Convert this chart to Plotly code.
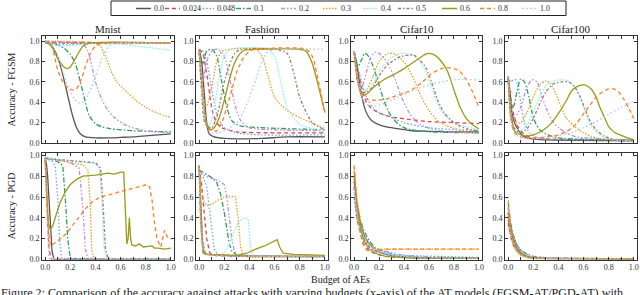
import plotly.graph_objects as go

# ---------------- data ----------------
BUDGETS = ["0.0", "0.024", "0.048", "0.1", "0.2", "0.3", "0.4", "0.5", "0.6", "0.8", "1.0"]
DATASETS = ["Mnist", "Fashion", "Cifar10", "Cifar100"]
ROW_TITLES = ["Accuracy - FGSM", "Accuracy - PGD"]
X_TICKS = [0.0, 0.1, 0.2, 0.3, 0.4, 0.5, 0.6, 0.7, 0.8, 0.9, 1.0]
Y_TICKS = [0.0, 0.2, 0.4, 0.6, 0.8, 1.0]

MNIST_FGSM = {
    "0.0": ([0, .04, .07, .1, .13, .16, .19, .22, .25, .28, .32, .4, .5, .6, .7, .8, .9, 1.0],
            [1.0, .97, .92, .84, .72, .57, .41, .26, .15, .09, .06, .05, .05, .055, .06, .07, .08, .09]),
    "0.024": ([0, .5, 1.0], [.99, .985, .985]),
    "0.048": ([0, .1, .2, .3, 1.0], [.99, .97, .965, .975, .98]),
    "0.1": ([0, .05, .1, .15, .2, .24, .28, .31, .35, .4, .45, .52, .7, 1.0],
            [1.0, .98, .96, .93, .87, .78, .6, .45, .27, .19, .16, .14, .12, .11]),
    "0.2": ([0, .2, .3, .34, .37, .4, .45, .5, .55, .65, .8, 1.0],
            [1.0, .98, .97, .9, .76, .6, .43, .32, .25, .17, .12, .1]),
    "0.3": ([0, .4, .44, .48, .52, .57, .65, .72, .8, .9, 1.0],
            [1.0, .98, .95, .85, .72, .6, .5, .42, .35, .29, .25]),
    "0.4": ([0, .15, .3, .6, .8, 1.0], [.98, .95, .97, .97, .94, .91]),
    "0.5": ([0, 1.0], [.98, .98]),
    "0.6": ([0, .05, .1, .15, .175, .2, .25, .3, .35, 1.0],
            [1.0, .95, .83, .745, .73, .745, .85, .95, .98, .98]),
    "0.8": ([0, .05, .1, .15, .2, .24, .28, .32, .36, .4, .45, 1.0],
            [1.0, .95, .72, .58, .53, .52, .6, .75, .88, .95, .98, .98]),
    "1.0": ([0, .05, .1, .15, .2, .25, .28, .32, .37, .42, .47, .52, .57, 1.0],
            [1.0, .97, .85, .66, .5, .41, .39, .42, .55, .72, .88, .96, .98, .98]),
}

FASHION_FGSM = {
    "0.0": ([0, .02, .04, .06, .08, .12, .2, .3, .5, .7, 1.0],
            [.92, .8, .5, .2, .09, .06, .045, .04, .045, .06, .06]),
    "0.024": ([0, .03, .05, .07, .09, .11, .14, .18, .3, .6, 1.0],
              [.92, .88, .75, .6, .42, .29, .2, .15, .11, .1, .1]),
    "0.048": ([0, .03, .06, .09, .12, .15, .2, .3, .5, 1.0],
              [.92, .9, .8, .6, .4, .25, .15, .1, .08, .08]),
    "0.1": ([0, .03, .06, .1, .14, .18, .22, .26, .32, .5, 1.0],
            [.9, .78, .9, .92, .85, .6, .35, .22, .17, .15, .13]),
    "0.2": ([0, .03, .06, .1, .15, .2, .24, .28, .33, .4, .6, 1.0],
            [.9, .6, .8, .9, .92, .85, .65, .4, .22, .15, .13, .12]),
    "0.3": ([0, .02, .04, .06, .1, .14, .18, .25, .45, .5, .55, .6, .7, .8, 1.0],
            [.9, .6, .4, .36, .55, .8, .9, .92, .92, .85, .65, .45, .32, .25, .14]),
    "0.4": ([0, .02, .05, .08, .12, .16, .2, .25, .55, .6, .65, .7, .8, .9, 1.0],
            [.9, .5, .2, .17, .35, .65, .85, .92, .92, .85, .6, .35, .18, .14, .12]),
    "0.5": ([0, .02, .05, .1, .15, .2, .3, .6, .7, .75, .8, .9, 1.0],
            [.9, .5, .18, .15, .3, .6, .9, .92, .88, .7, .45, .2, .13]),
    "0.6": ([0, .03, .06, .09, .12, .16, .2, .24, .28, .32, .36, .45, .8, .85, .9, .95, 1.0],
            [.9, .5, .17, .13, .15, .25, .42, .62, .78, .87, .91, .92, .92, .9, .78, .55, .3]),
    "0.8": ([0, .03, .06, .1, .14, .18, .22, .26, .3, .35, .4, .45, .85, .9, .95, 1.0],
            [.9, .5, .2, .12, .12, .2, .35, .52, .7, .83, .9, .92, .92, .85, .6, .3]),
    "1.0": ([0, .03, .06, .1, .15, .2, .3, .35, .4, .45, .5, .55, .6, 1.0],
            [.9, .5, .15, .1, .1, .12, .2, .3, .45, .62, .8, .9, .92, .92]),
}

CIFAR10_FGSM = {
    "0.0": ([0, .02, .04, .06, .085, .11, .14, .18, .25, .35, .46, .6, .8, 1.0],
            [.9, .78, .62, .47, .34, .27, .22, .19, .16, .14, .12, .115, .11, .11]),
    "0.024": ([0, .03, .06, .09, .13, .19, .25, .33, .45, .6, .8, 1.0],
              [.9, .72, .55, .42, .35, .3, .27, .25, .23, .21, .2, .19]),
    "0.048": ([0, .03, .06, .1, .15, .2, .3, .4, .6, 1.0],
              [.9, .75, .6, .45, .35, .3, .25, .2, .15, .12]),
    "0.1": ([0, .03, .06, .085, .11, .15, .19, .23, .27, .31, .35, .4, .46, .6, 1.0],
            [.9, .75, .82, .88, .86, .76, .61, .45, .32, .24, .19, .15, .13, .11, .1]),
    "0.2": ([0, .03, .06, .1, .13, .165, .2, .27, .33, .38, .44, .49, .55, .62, .75, 1.0],
            [.9, .6, .55, .7, .83, .89, .88, .78, .62, .45, .3, .22, .17, .14, .11, .1]),
    "0.3": ([0, .03, .06, .1, .15, .2, .27, .33, .41, .48, .54, .6, .67, .74, .81, .9, 1.0],
            [.9, .6, .5, .52, .65, .8, .88, .87, .78, .62, .45, .32, .22, .17, .14, .11, .1]),
    "0.4": ([0, .03, .06, .1, .15, .2, .28, .38, .48, .57, .62, .67, .72, .78, .84, .9, 1.0],
            [.9, .6, .52, .52, .58, .7, .82, .88, .86, .71, .55, .38, .28, .22, .18, .16, .13]),
    "0.5": ([0, .03, .06, .1, .15, .2, .28, .38, .48, .57, .62, .67, .72, .78, .84, .9, 1.0],
            [.9, .6, .5, .5, .55, .66, .78, .85, .86, .75, .6, .42, .3, .22, .17, .14, .12]),
    "0.6": ([0, .03, .06, .1, .15, .19, .25, .33, .4, .46, .52, .57, .6, .65, .7, .75, .8, .85, .9, .95, 1.0],
            [.9, .6, .47, .48, .54, .58, .63, .68, .73, .78, .83, .87, .88, .86, .8, .7, .52, .35, .24, .18, .14]),
    "0.8": ([0, .03, .06, .1, .15, .19, .25, .33, .4, .46, .55, .62, .7, .75, .8, .85, .9, .95, 1.0],
            [.9, .6, .48, .43, .42, .42, .43, .46, .49, .52, .6, .68, .73, .74, .73, .7, .62, .5, .35]),
    "1.0": ([0, .03, .06, .1, .15, .2, .3, .4, .5, .6, .7, .8, 1.0],
            [.9, .6, .45, .38, .36, .37, .42, .48, .53, .57, .6, .62, .62]),
}

CIFAR100_FGSM = {
    "0.0": ([0, .015, .03, .05, .085, .12, .19, .3, .5, 1.0],
            [.65, .5, .3, .2, .12, .07, .04, .03, .025, .02]),
    "0.024": ([0, .02, .04, .07, .1, .15, .2, .3, 1.0],
              [.65, .45, .3, .18, .12, .07, .05, .04, .03]),
    "0.048": ([0, .02, .04, .06, .08, .1, .13, .17, .22, .3, 1.0],
              [.65, .6, .62, .62, .55, .4, .2, .1, .06, .04, .03]),
    "0.1": ([0, .02, .04, .07, .1, .13, .165, .19, .22, .26, .3, .4, 1.0],
            [.65, .4, .35, .5, .63, .6, .45, .3, .19, .12, .09, .05, .03]),
    "0.2": ([0, .02, .05, .1, .15, .19, .23, .27, .31, .35, .4, .46, .55, 1.0],
            [.65, .35, .25, .35, .55, .62, .6, .45, .32, .22, .15, .1, .06, .03]),
    "0.3": ([0, .02, .05, .1, .15, .2, .25, .3, .34, .38, .42, .46, .52, .57, .65, .73, 1.0],
            [.65, .3, .2, .2, .3, .45, .57, .61, .58, .48, .36, .25, .17, .12, .07, .04, .02]),
    "0.4": ([0, .02, .05, .1, .15, .2, .25, .3, .36, .43, .48, .53, .57, .61, .65, .7, .76, .85, 1.0],
            [.65, .3, .15, .12, .18, .3, .45, .56, .61, .62, .61, .55, .45, .32, .19, .11, .06, .03, .02]),
    "0.5": ([0, .02, .05, .1, .15, .2, .25, .3, .36, .43, .48, .53, .57, .61, .65, .7, .76, .85, 1.0],
            [.65, .3, .14, .1, .14, .24, .38, .5, .58, .6, .6, .55, .46, .34, .22, .13, .07, .03, .02]),
    "0.6": ([0, .02, .05, .1, .14, .2, .27, .34, .4, .46, .51, .56, .61, .66, .7, .73, .77, .8, .85, .89, .95, 1.0],
            [.65, .3, .12, .08, .07, .08, .12, .19, .29, .41, .52, .56, .57, .53, .45, .35, .24, .16, .1, .08, .05, .03]),
    "0.8": ([0, .02, .05, .1, .19, .3, .4, .5, .55, .59, .65, .7, .75, .8, .84, .88, .92, .96, 1.0],
            [.65, .25, .1, .06, .05, .06, .08, .14, .2, .27, .37, .45, .5, .53, .53, .5, .43, .34, .24]),
    "1.0": ([0, .02, .05, .1, .2, .3, .4, .5, .6, .7, .8, .9, 1.0],
            [.65, .25, .1, .05, .04, .05, .07, .1, .15, .21, .28, .35, .41]),
}

MNIST_PGD = {
    "0.0": ([0, .01, .02, .04, .055, .07, 1.0], [.97, .92, .8, .35, .08, 0, 0]),
    "0.024": ([0, .01, .02, .03, .05, 1.0], [.95, .7, .4, .1, 0, 0]),
    "0.048": ([0, .05, .08, .1, .115, .13, 1.0], [.97, .95, .9, .6, .2, .01, 0]),
    "0.1": ([0, .1, .14, .16, .18, .2, 1.0], [.98, .94, .9, .6, .2, .01, 0]),
    "0.2": ([0, .2, .27, .3, .32, .34, 1.0], [.98, .93, .88, .5, .1, .01, 0]),
    "0.3": ([0, .3, .34, .36, .37, .39, 1.0], [.98, .91, .86, .5, .1, .01, 0]),
    "0.4": ([0, .4, .43, .45, .47, .49, 1.0], [.98, .92, .88, .6, .1, .01, 0]),
    "0.5": ([0, .4, .44, .46, .48, .5, 1.0], [.97, .93, .88, .55, .1, .01, 0]),
    "0.6": ([0, .01, .025, .04, .06, .09, .12, .16, .2, .25, .3, .4, .5, .55, .6, .625, .635, .65, .66, .67, .68, .69,
             .72, .75, .78, .85, .87, .9, .95, 1.0],
            [.98, .7, .35, .29, .32, .44, .55, .65, .72, .77, .8, .81, .83, .82, .84, .84, .5, .15, .2, .4, .2, .14,
             .13, .15, .12, .13, .11, .11, .1, .11]),
    "0.8": ([0, .01, .025, .04, .08, .12, .17, .22, .28, .33, .38, .44, .5, .6, .7, .76, .81, .83, .85, .87, .89,
             .92, .935, .95, .97, 1.0],
            [.98, .7, .3, .13, .16, .2, .25, .33, .42, .5, .56, .6, .62, .65, .68, .7, .72, .7, .57, .35, .2,
             .12, .2, .28, .22, .19]),
    "1.0": ([0, .01, .03, 1.0], [.97, .5, .01, 0]),
}

FASHION_PGD = {
    "0.0": ([0, .01, .02, .03, .05, .2, .4, 1.0], [.9, .6, .2, .07, .05, .04, .03, .03]),
    "0.024": ([0, .02, .04, .06, .085, .12, .3, 1.0], [.88, .72, .45, .2, .06, .04, .03, .03]),
    "0.048": ([0, .03, .06, .09, .12, .15, .3, 1.0], [.85, .8, .7, .4, .1, .04, .03, .02]),
    "0.1": ([0, .03, .08, .11, .14, .17, .2, .22, .24, .26, .3, 1.0],
            [.86, .84, .8, .78, .74, .63, .45, .3, .15, .08, .04, .02]),
    "0.2": ([0, .05, .1, .15, .2, .22, .24, .26, .28, .3, 1.0],
            [.85, .8, .78, .76, .72, .6, .4, .2, .08, .04, .02]),
    "0.3": ([0, .02, .04, .06, .1, .15, .2, .25, .29, .31, .33, .35, .4, 1.0],
            [.88, .65, .55, .52, .53, .57, .6, .61, .6, .4, .12, .04, .02, .02]),
    "0.4": ([0, .02, .05, .1, .15, .2, .24, .28, .32, .36, .39, .4, .41, .43, 1.0],
            [.9, .3, .06, .04, .04, .06, .15, .28, .37, .4, .39, .25, .1, .03, .02]),
    "0.5": ([0, .02, .05, .4, .5, 1.0], [.9, .2, .05, .04, .03, .03]),
    "0.6": ([0, .01, .03, .06, .2, .3, .38, .45, .52, .58, .62, .64, .67, .75, 1.0],
            [.9, .5, .08, .05, .04, .04, .06, .1, .13, .17, .19, .12, .06, .05, .04]),
    "0.8": ([0, .01, .03, .1, .3, .6, 1.0], [.9, .4, .06, .04, .03, .03, .03]),
    "1.0": ([0, .01, .03, .2, 1.0], [.88, .35, .05, .03, .03]),
}

CIFAR10_PGD = {
    "0.0": ([0, .02, .05, .08, .12, .17, .25, .35, .5, 1.0], [.8, .55, .35, .23, .15, .09, .05, .03, .02, .01]),
    "0.024": ([0, .02, .05, .08, .12, .18, .25, .35, 1.0], [.7, .4, .25, .15, .08, .05, .03, .02, .01]),
    "0.048": ([0, .02, .05, .08, .12, .18, .25, .35, 1.0], [.75, .5, .32, .22, .14, .09, .06, .04, .02]),
    "0.1": ([0, .02, .05, .08, .12, .17, .25, .35, .5, 1.0], [.75, .55, .38, .27, .18, .11, .07, .04, .02, .01]),
    "0.2": ([0, .02, .05, .08, .12, .17, .25, .35, .5, 1.0], [.7, .5, .33, .22, .15, .1, .08, .05, .03, .01]),
    "0.3": ([0, .02, .05, .08, .12, .17, .22, .3, 1.0], [.9, .6, .38, .24, .15, .11, .1, .1, .1]),
    "0.4": ([0, .02, .05, .08, .12, .17, .25, .35, .5, 1.0], [.65, .45, .3, .2, .13, .09, .06, .04, .02, .01]),
    "0.5": ([0, .02, .05, .08, .12, .17, .25, .35, .5, 1.0], [.6, .42, .28, .19, .12, .08, .05, .03, .02, .01]),
    "0.6": ([0, .02, .05, .08, .12, .17, .25, .35, .5, 1.0], [.85, .55, .3, .18, .1, .06, .03, .02, .01, .01]),
    "0.8": ([0, .02, .04, .07, .1, .15, .2, .25, .3, 1.0], [.9, .55, .3, .15, .09, .08, .09, .1, .1, .1]),
    "1.0": ([0, .02, .05, .08, .12, .17, .25, .35, .5, 1.0], [.65, .4, .25, .16, .1, .07, .05, .03, .02, .01]),
}

CIFAR100_PGD = {
    "0.0": ([0, .02, .04, .07, .1, .15, .2, .3, 1.0], [.45, .3, .2, .12, .07, .03, .015, .01, .005]),
    "0.024": ([0, .02, .04, .07, .1, .15, .2, .3, 1.0], [.35, .22, .14, .08, .05, .02, .01, .01, .005]),
    "0.048": ([0, .02, .04, .07, .1, .15, .2, .3, 1.0], [.5, .32, .22, .13, .08, .04, .02, .01, .005]),
    "0.1": ([0, .02, .04, .07, .1, .15, .2, .3, 1.0], [.55, .35, .24, .14, .09, .05, .03, .015, .005]),
    "0.2": ([0, .02, .04, .07, .1, .15, .2, .3, 1.0], [.5, .33, .23, .14, .09, .05, .03, .015, .005]),
    "0.3": ([0, .02, .04, .07, .1, .15, .2, .3, 1.0], [.6, .3, .17, .09, .05, .02, .01, .01, .005]),
    "0.4": ([0, .02, .04, .07, .1, .15, .2, .3, 1.0], [.4, .28, .19, .11, .07, .04, .02, .01, .005]),
    "0.5": ([0, .02, .04, .07, .1, .15, .2, .3, 1.0], [.38, .26, .18, .1, .06, .03, .02, .01, .005]),
    "0.6": ([0, .02, .04, .07, .1, .15, .2, .3, 1.0], [.42, .3, .2, .11, .06, .03, .015, .01, .005]),
    "0.8": ([0, .02, .04, .07, .1, .15, .2, .3, 1.0], [.45, .25, .15, .08, .04, .02, .01, .01, .005]),
    "1.0": ([0, .02, .04, .07, .1, .15, .2, .3, 1.0], [.3, .2, .13, .07, .04, .02, .01, .01, .005]),
}

PANELS = [[MNIST_FGSM, FASHION_FGSM, CIFAR10_FGSM, CIFAR100_FGSM],
          [MNIST_PGD, FASHION_PGD, CIFAR10_PGD, CIFAR100_PGD]]

# ---------------- styles ----------------
COLORS = ["#555555", "#e8414e", "#6aa6ee", "#2f9e5a", "#b58cf0", "#e0a226",
          "#a6eeee", "#9c7b6e", "#9a9a16", "#ff7f24", "#a9c4f0"]
DASHES = ["solid", "4px,3px", "1.5px,2px", "5px,2px,1.5px,2px", "4px,2px,1.5px,2px,1.5px,2px",
          "1.5px,1.5px", "2px,1px", "3px,2px,1.5px,2px", "solid", "4px,3px", "1.5px,2.5px"]
FONT = "Liberation Serif"
W, H = 640, 295
COL_PX = [(42, 174), (196, 328), (351, 482), (505, 637)]
ROW_PX = [(36, 143), (153, 259.5)]
Y_RANGES = [[0, 1.05], [0, 1.023]]

fig = go.Figure()
layout = dict(width=W, height=H, margin=dict(l=0, r=0, t=0, b=0, pad=0, autoexpand=False),
              paper_bgcolor="white", plot_bgcolor="white", showlegend=False,
              font=dict(family=FONT, color="#333"))

for r in range(2):
    for c in range(4):
        i = r * 4 + c + 1
        panel = PANELS[r][c]
        for k, b in enumerate(BUDGETS):
            xs, ys = panel[b]
            fig.add_trace(go.Scatter(
                x=xs, y=ys, mode="lines", name=b,
                line=dict(color=COLORS[k], dash=DASHES[k], width=1.3,
                          shape="spline" if r == 0 else "linear", smoothing=0.7),
                xaxis="x%d" % i, yaxis="y%d" % i, hoverinfo="skip"))
        ax = dict(domain=[COL_PX[c][0] / W, COL_PX[c][1] / W], anchor="y%d" % i,
                  range=[-0.025, 1.025], tickvals=X_TICKS,
                  ticktext=[("%.1f" % v) if j % 2 == 0 else "" for j, v in enumerate(X_TICKS)],
                  ticks="inside", ticklen=3, tickcolor="#333", mirror="allticks",
                  showline=True, linecolor="#333", linewidth=1, showgrid=False, zeroline=False,
                  showticklabels=(r == 1), tickfont=dict(size=8, family=FONT, color="#333"))
        ay = dict(domain=[1 - ROW_PX[r][1] / H, 1 - ROW_PX[r][0] / H], anchor="x%d" % i,
                  range=Y_RANGES[r], tickvals=Y_TICKS, ticktext=["%.1f" % v for v in Y_TICKS],
                  ticks="inside", ticklen=3, tickcolor="#333", mirror="allticks",
                  showline=True, linecolor="#333", linewidth=1, showgrid=False, zeroline=False,
                  tickfont=dict(size=8, family=FONT, color="#333"))
        layout["xaxis%d" % i] = ax
        layout["yaxis%d" % i] = ay

annotations = []
shapes = []


def note(text, xpx, ypx, size, xanchor="center", yanchor="middle", angle=0, color="#222"):
    annotations.append(dict(text=text, x=xpx / W, y=1 - ypx / H, xref="paper", yref="paper",
                            xanchor=xanchor, yanchor=yanchor, textangle=angle, showarrow=False,
                            borderpad=0, font=dict(size=size, family=FONT, color=color)))


for c, name in enumerate(DATASETS):
    note(name, (COL_PX[c][0] + COL_PX[c][1]) / 2, 29, 11)
for r, t in enumerate(ROW_TITLES):
    note(t, 11, (ROW_PX[r][0] + ROW_PX[r][1]) / 2, 10, angle=-90)
note("Budget of AEs", 340, 279, 10)
note("Figure 2: Comparison of the accuracy against attacks with varying budgets (x-axis) "
     "of the AT models (FGSM-AT/PGD-AT) with", 0, 285, 12.1, xanchor="left", yanchor="top")

shapes.append(dict(type="rect", xref="paper", yref="paper", x0=111 / W, x1=566 / W,
                   y0=1 - 15.5 / H, y1=1 - 1 / H, line=dict(color="#222", width=1), fillcolor="white"))
LEG_START = [136, 165, 199, 236, 281, 323, 363, 398, 442, 480, 522]
for k, b in enumerate(BUDGETS):
    s = LEG_START[k]
    shapes.append(dict(type="line", xref="paper", yref="paper", x0=s / W, x1=(s + 15) / W,
                       y0=1 - 8.5 / H, y1=1 - 8.5 / H,
                       line=dict(color=COLORS[k], dash=DASHES[k], width=1.5)))
    note(b, s + 17, 8.5, 8, xanchor="left", color="#333")

layout["annotations"] = annotations
layout["shapes"] = shapes
fig.update_layout(**layout)
fig.write_html("out.html", config={"displayModeBar": False},
               post_script="document.body.style.margin='0';document.body.style.padding='0';"
                           "document.documentElement.style.overflow='hidden';")
